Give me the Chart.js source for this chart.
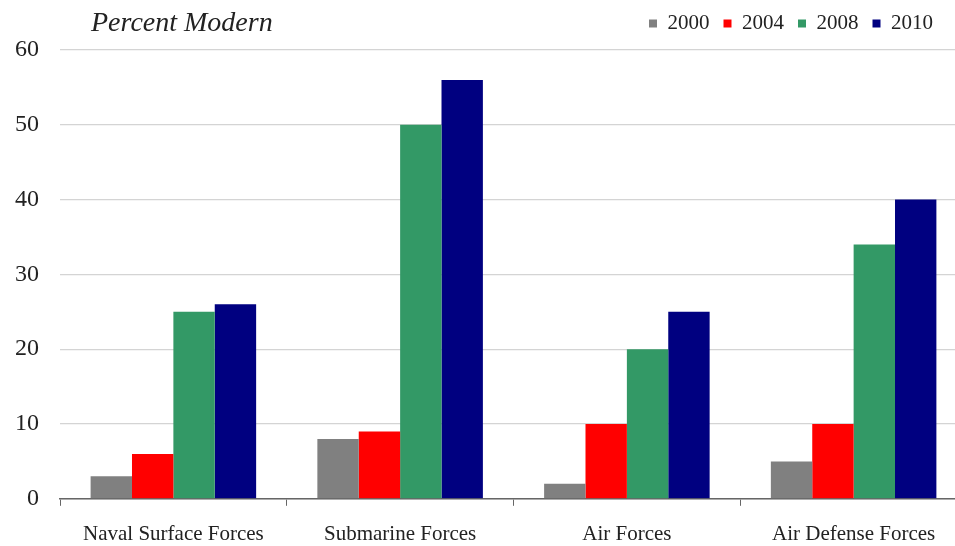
<!DOCTYPE html>
<html>
<head>
<meta charset="utf-8">
<script src="https://cdn.jsdelivr.net/npm/chart.js@4.4.0/dist/chart.umd.min.js"></script>
<style>
  html, body { margin: 0; padding: 0; background: #fff; overflow: hidden; }
  .wrap { position: relative; width: 968px; height: 546px; }
</style>
</head>
<body>
<div class="wrap"><canvas id="chart"></canvas></div>
<script>
// ---------------- DATA ----------------
const categories = ["Naval Surface Forces", "Submarine Forces", "Air Forces", "Air Defense Forces"];
const years = ["2000", "2004", "2008", "2010"];
const values2000 = [3, 8, 2, 5];
const values2004 = [6, 9, 10, 10];
const values2008 = [25, 50, 20, 34];
const values2010 = [26, 56, 25, 40];
const colors = ["#808080", "#ff0000", "#339966", "#000080"];
const yTicks = [0, 10, 20, 30, 40, 50, 60];
const titleText = "Percent Modern";

const serif = "'Liberation Serif', 'Times New Roman', serif";

// ---------------- PLUGINS ----------------
// italic caption in the top-left corner
const titlePlugin = {
  id: "cornerTitle",
  afterDraw(chart) {
    const ctx = chart.ctx;
    ctx.save();
    ctx.font = "italic 28px " + serif;
    ctx.fillStyle = "#222";
    ctx.textBaseline = "alphabetic";
    ctx.fillText(titleText, 91, 31);
    ctx.restore();
  }
};

// legend sits on the same row as the caption
const legendShift = {
  id: "legendShift",
  afterLayout(chart) {
    const lg = chart.legend;
    if (!lg) return;
    lg.top -= 6; lg.bottom -= 6;
    lg.right -= 20; lg.left -= 20;
  }
};

// ---------------- CHART ----------------
const series = [values2000, values2004, values2008, values2010];

new Chart(document.getElementById("chart"), {
  type: "bar",
  data: {
    labels: categories,
    datasets: years.map((y, i) => ({
      label: y,
      data: series[i],
      backgroundColor: colors[i],
      borderWidth: 0,
      categoryPercentage: 0.73,
      barPercentage: 1.0
    }))
  },
  options: {
    responsive: true,
    maintainAspectRatio: false,
    animation: false,
    layout: { padding: { top: 5, left: -6, right: 1, bottom: -17 } },
    plugins: {
      legend: {
        position: "top",
        align: "end",
        labels: {
          boxWidth: 8,
          boxHeight: 8,
          padding: 14,
          color: "#222",
          font: { family: serif, size: 21 }
        }
      },
      tooltip: { enabled: false }
    },
    scales: {
      x: {
        grid: {
          offset: true,
          drawOnChartArea: false,
          drawTicks: true,
          tickLength: 7,
          color: "#666"
        },
        border: { display: true, color: "#666", width: 1.5 },
        ticks: {
          color: "#222",
          padding: 16,
          font: { family: serif, size: 21 },
          maxRotation: 0
        }
      },
      y: {
        min: yTicks[0],
        max: yTicks[yTicks.length - 1],
        afterBuildTicks: axis => { axis.ticks = yTicks.map(v => ({ value: v })); },
        grid: { color: "#d4d4d4", drawTicks: false, lineWidth: 1.2 },
        border: { display: false },
        ticks: {
          color: "#222",
          padding: 21,
          font: { family: serif, size: 24 }
        }
      }
    }
  },
  plugins: [titlePlugin, legendShift]
});
</script>
</body>
</html>
